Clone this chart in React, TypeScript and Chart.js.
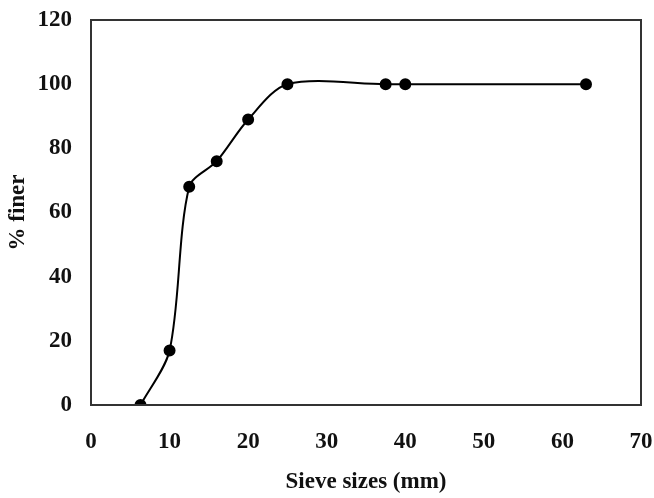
import React, { useEffect, useRef } from "react";
import { Chart, registerables } from "chart.js";

Chart.register(...registerables);

const sieveSizes = [6.3, 10, 12.5, 16, 20, 25, 37.5, 40, 63];
const percentFiner = [0, 17, 68, 76, 89, 100, 100, 100, 100];
const xTitle = "Sieve sizes (mm)";
const yTitle = "% finer";

const boxPlugin = {
  id: "box",
  afterDraw(chart: any) {
    const { ctx, chartArea } = chart;
    ctx.save();
    ctx.strokeStyle = "#333";
    ctx.lineWidth = 2;
    ctx.strokeRect(chartArea.left, chartArea.top, chartArea.right - chartArea.left, chartArea.bottom - chartArea.top);
    ctx.restore();
  },
};

export default function App() {
  const ref = useRef<HTMLCanvasElement>(null);
  useEffect(() => {
    document.body.style.margin = "0";
    const font = { family: "'Liberation Serif', 'Times New Roman', serif", weight: "bold" as const, size: 23 };
    const chart = new Chart(ref.current!, {
      type: "line",
      data: {
        datasets: [
          {
            data: sieveSizes.map((x, i) => ({ x, y: percentFiner[i] })),
            borderColor: "#000",
            backgroundColor: "#000",
            borderWidth: 2,
            pointRadius: 5,
            pointBackgroundColor: "#000",
            tension: 0.3,
            fill: false,
          },
        ],
      },
      options: {
        animation: false,
        responsive: false,
        layout: { padding: { left: 0, right: 13, top: 20, bottom: 0 } },
        plugins: { legend: { display: false }, tooltip: { enabled: false } },
        scales: {
          x: {
            type: "linear",
            min: 0,
            max: 70,
            grid: { display: false, drawTicks: false },
            border: { display: false },
            ticks: { stepSize: 10, color: "#111", font, padding: 23, maxRotation: 0 },
            title: { display: true, text: xTitle, color: "#111", font, padding: { top: 4, bottom: 2 } },
            afterFit: (s: any) => { s.height = 93; s.paddingLeft = 0; s.paddingRight = 0; },
          },
          y: {
            min: 0,
            max: 120,
            grid: { display: false, drawTicks: false },
            border: { display: false },
            ticks: { stepSize: 20, color: "#111", font, padding: 19 },
            title: { display: true, text: yTitle, color: "#111", font, padding: { top: 4, bottom: 4 } },
            afterFit: (s: any) => { s.width = 91; s.paddingTop = 0; s.paddingBottom = 0; },
          },
        },
      },
      plugins: [boxPlugin],
    });
    return () => chart.destroy();
  }, []);
  return <canvas ref={ref} width={654} height={498} style={{ display: "block" }} />;
}
